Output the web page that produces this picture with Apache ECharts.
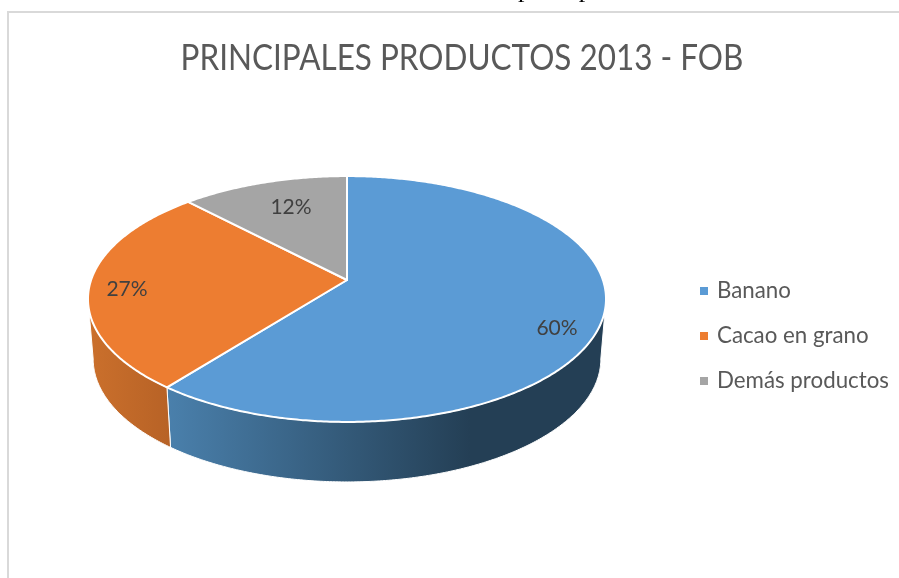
<!DOCTYPE html>
<html>
<head>
<meta charset="utf-8">
<style>html,body{margin:0;padding:0;background:#fff}#c{width:899px;height:578px}</style>
<script src="https://cdn.jsdelivr.net/npm/echarts@6/dist/echarts.min.js"></script>
</head>
<body>
<div id="c"></div>
<script>
var categories = ['Banano', 'Cacao en grano', 'Demás productos'];
var values = [60, 27, 12];
var labels = ['60%', '27%', '12%'];
var colors = ['#5B9BD5', '#ED7D31', '#A5A5A5'];
var titleText = 'PRINCIPALES PRODUCTOS 2013 - FOB';
var clippedText = 'principales';

var total = values.reduce(function (a, b) { return a + b; }, 0);
var CX = 347, CY = 280, A = 255.9, B = 120, K = 0.1545, DEPTH = 60, SHRINK = 0.98;
var T_RIGHT = Math.acos(-K), T_LEFT = 2 * Math.PI - T_RIGHT;

function topEdge(t) {
  var u = Math.sin(t), v = Math.cos(t), w = 1 + K * v;
  return [CX + A * u / w, CY - B * v / w];
}
function bottomEdge(t) {
  var p = topEdge(t);
  return [CX + SHRINK * (p[0] - CX), p[1] + DEPTH];
}
function arc(fn, a, b) {
  var n = Math.max(2, Math.ceil(Math.abs(b - a) / 0.01)), pts = [];
  for (var i = 0; i <= n; i++) pts.push(fn(a + (b - a) * i / n));
  return pts;
}
var labelPos = [[557, 328], [127, 289], [291, 207]];
var wallFill = [
  new echarts.graphic.LinearGradient(0, 0, 1, 0, [
    { offset: 0, color: '#4A80AC' },
    { offset: 0.69, color: '#243F55' },
    { offset: 1, color: '#243F55' }
  ]),
  new echarts.graphic.LinearGradient(0, 0, 1, 0, [
    { offset: 0, color: '#CB702C' },
    { offset: 1, color: '#B76226' }
  ]),
  '#7F7F7F'
];

function makeRender(idx) {
  return function (params, api) {
    var start = 0;
    for (var i = 0; i < idx; i++) start += values[i];
    var a = start / total * 2 * Math.PI;
    var b = a + api.value(0) / total * 2 * Math.PI;
    var children = [];
    var wa = Math.max(a, T_RIGHT), wb = Math.min(b, T_LEFT);
    if (wb > wa) {
      var wall = arc(topEdge, wa, wb).concat(arc(bottomEdge, wb, wa));
      children.push({
        type: 'polygon', shape: { points: wall },
        style: { fill: wallFill[idx], stroke: '#fff', lineWidth: 1 }
      });
    }
    children.push({
      type: 'polygon', shape: { points: [[CX, CY]].concat(arc(topEdge, a, b)) },
      style: { fill: colors[idx], stroke: '#fff', lineWidth: 2, lineJoin: 'round' }
    });
    children.push({
      type: 'text', z2: 10,
      style: {
        x: labelPos[idx][0], y: labelPos[idx][1], text: labels[idx],
        fill: '#404040', font: '21px Lato, "Open Sans", sans-serif', align: 'center', verticalAlign: 'middle'
      }
    });
    return { type: 'group', children: children };
  };
}
var chart = echarts.init(document.getElementById('c'), null, { renderer: 'canvas' });
var series = categories.map(function (name, i) {
  return {
    type: 'custom', name: name, coordinateSystem: 'none',
    renderItem: makeRender(i), data: [values[i]],
    itemStyle: { color: colors[i] }, silent: true, animation: false
  };
});
chart.setOption({
  animation: false,
  backgroundColor: '#fff',
  legend: {
    orient: 'vertical', left: 695, top: 275, itemWidth: 8, itemHeight: 8, itemGap: 23,
    icon: 'rect', data: categories,
    textStyle: { fontFamily: 'Lato', fontSize: 22.3, color: '#595959', padding: [0, 0, 0, 4] }
  },
  graphic: [
    { type: 'rect', silent: true, z: -1, shape: { x: 8, y: 12, width: 1000, height: 700 },
      style: { fill: '#fff', stroke: '#D9D9D9', lineWidth: 2 } },
    { type: 'text', silent: true, z: 5, x: 518, y: 3.5,
      style: { text: clippedText, font: '26px "Liberation Serif"', fill: '#000', verticalAlign: 'bottom' } },
    { type: 'text', silent: true, z: 5, x: 462, y: 58, scaleX: 0.874,
      style: { text: titleText, font: '36px Lato', fill: '#595959', align: 'center', verticalAlign: 'middle' } }
  ],
  series: series
});
</script>
</body>
</html>
